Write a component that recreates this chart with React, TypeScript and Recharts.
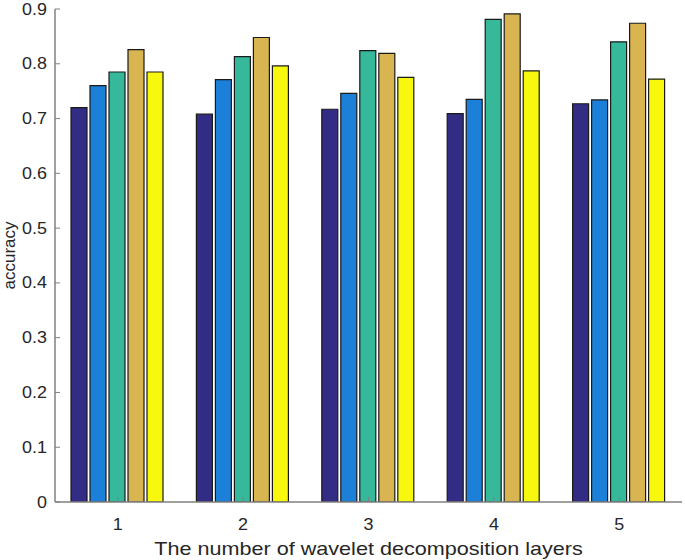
import React from 'react';
import { BarChart, Bar, XAxis, YAxis } from 'recharts';

const categories = ['1', '2', '3', '4', '5'];
const series1 = [0.72, 0.708, 0.717, 0.709, 0.727];
const series2 = [0.76, 0.771, 0.746, 0.735, 0.734];
const series3 = [0.785, 0.813, 0.824, 0.881, 0.84];
const series4 = [0.826, 0.848, 0.819, 0.891, 0.874];
const series5 = [0.785, 0.796, 0.775, 0.787, 0.772];
const yTicks = [0, 0.1, 0.2, 0.3, 0.4, 0.5, 0.6, 0.7, 0.8, 0.9];

const seriesKeys = ['s1', 's2', 's3', 's4', 's5'];
const colors = ['#332C85', '#1C80D8', '#36B99B', '#D8B550', '#F8F80F'];
const seriesValues = [series1, series2, series3, series4, series5];

const data = categories.map((c, i) => {
  const row: any = { cat: c };
  seriesKeys.forEach((k, j) => {
    row[k] = seriesValues[j][i];
  });
  return row;
});

const FONT = '"Liberation Sans", Arial, sans-serif';
const TEXT = '#262626';
const AXIS = '#808080';
const TICK = 5;
const SX = 1.12;

const LeftTick = (props: any) => {
  const { x, y, payload } = props;
  const ax = x + 8;
  return (
    <g>
      <line x1={ax} x2={ax + TICK} y1={y} y2={y} stroke={AXIS} strokeWidth={1} />
      <text
        transform={`translate(${x},${y}) scale(${SX},1)`}
        x={0}
        y={0}
        dy={5.5}
        textAnchor="end"
        fontSize={16}
        fontFamily={FONT}
        fill={TEXT}
      >
        {String(payload.value)}
      </text>
    </g>
  );
};

const RightTick = (props: any) => {
  const { x, y } = props;
  return <line x1={x} x2={x - TICK} y1={y} y2={y} stroke={AXIS} strokeWidth={1} />;
};

const BottomTick = (props: any) => {
  const { x, y, payload } = props;
  return (
    <g>
      <line x1={x} x2={x} y1={y} y2={y - TICK} stroke={AXIS} strokeWidth={1} />
      <text
        transform={`translate(${x},${y}) scale(${SX},1)`}
        x={0}
        y={0}
        dy={28}
        textAnchor="middle"
        fontSize={16}
        fontFamily={FONT}
        fill={TEXT}
      >
        {payload.value}
      </text>
    </g>
  );
};

const TopTick = (props: any) => {
  const { x, y } = props;
  return <line x1={x} x2={x} y1={y} y2={y + TICK} stroke={AXIS} strokeWidth={1} />;
};

const XLabel = (props: any) => {
  const vb = props.viewBox || {};
  const cx = vb.x + vb.width / 2;
  return (
    <text
      transform={`translate(${cx},${vb.y + 53}) scale(1.2,1)`}
      x={0}
      y={0}
      textAnchor="middle"
      fontSize={18}
      fontFamily={FONT}
      fill={TEXT}
    >
      The number of wavelet decomposition layers
    </text>
  );
};

const YLabel = (props: any) => {
  const vb = props.viewBox || {};
  const cy = vb.y + vb.height / 2;
  const cx = vb.x + 15;
  return (
    <text
      x={cx}
      y={cy}
      transform={`rotate(-90, ${cx}, ${cy})`}
      textAnchor="middle"
      fontSize={17}
      fontFamily={FONT}
      fill={TEXT}
    >
      accuracy
    </text>
  );
};

export default function App() {
  return (
    <div style={{ position: 'absolute', left: 0, top: 0, background: '#fff' }}>
      <BarChart
        width={685}
        height={560}
        data={data}
        margin={{ top: 9, right: 3, left: 0, bottom: 0 }}
        barCategoryGap={16}
        barGap={3}
      >
        <XAxis
          dataKey="cat"
          xAxisId="bottom"
          orientation="bottom"
          height={58}
          tickSize={0}
          tickMargin={0}
          tick={<BottomTick />}
          axisLine={{ stroke: AXIS, strokeWidth: 1.5 }}
          tickLine={false}
          label={<XLabel />}
          interval={0}
        />
        <XAxis
          dataKey="cat"
          xAxisId="top"
          orientation="top"
          height={0}
          tickSize={0}
          tickMargin={0}
          tick={<TopTick />}
          axisLine={{ stroke: AXIS, strokeWidth: 1.5 }}
          tickLine={false}
          interval={0}
        />
        <YAxis
          yAxisId="left"
          orientation="left"
          width={55}
          domain={[0, 0.9]}
          ticks={yTicks}
          type="number"
          allowDataOverflow
          tickSize={0}
          tickMargin={8}
          tick={<LeftTick />}
          axisLine={{ stroke: AXIS, strokeWidth: 1.5 }}
          tickLine={false}
          interval={0}
          label={<YLabel />}
        />
        <YAxis
          yAxisId="right"
          orientation="right"
          width={0}
          domain={[0, 0.9]}
          ticks={yTicks}
          type="number"
          allowDataOverflow
          tickSize={0}
          tickMargin={0}
          tick={<RightTick />}
          axisLine={{ stroke: AXIS, strokeWidth: 1.5 }}
          tickLine={false}
          interval={0}
        />
        {seriesKeys.map((k, j) => (
          <Bar
            key={k}
            dataKey={k}
            xAxisId="bottom"
            yAxisId="left"
            fill={colors[j]}
            stroke="#1a1a1a"
            strokeWidth={1.2}
            isAnimationActive={false}
          />
        ))}
      </BarChart>
    </div>
  );
}
